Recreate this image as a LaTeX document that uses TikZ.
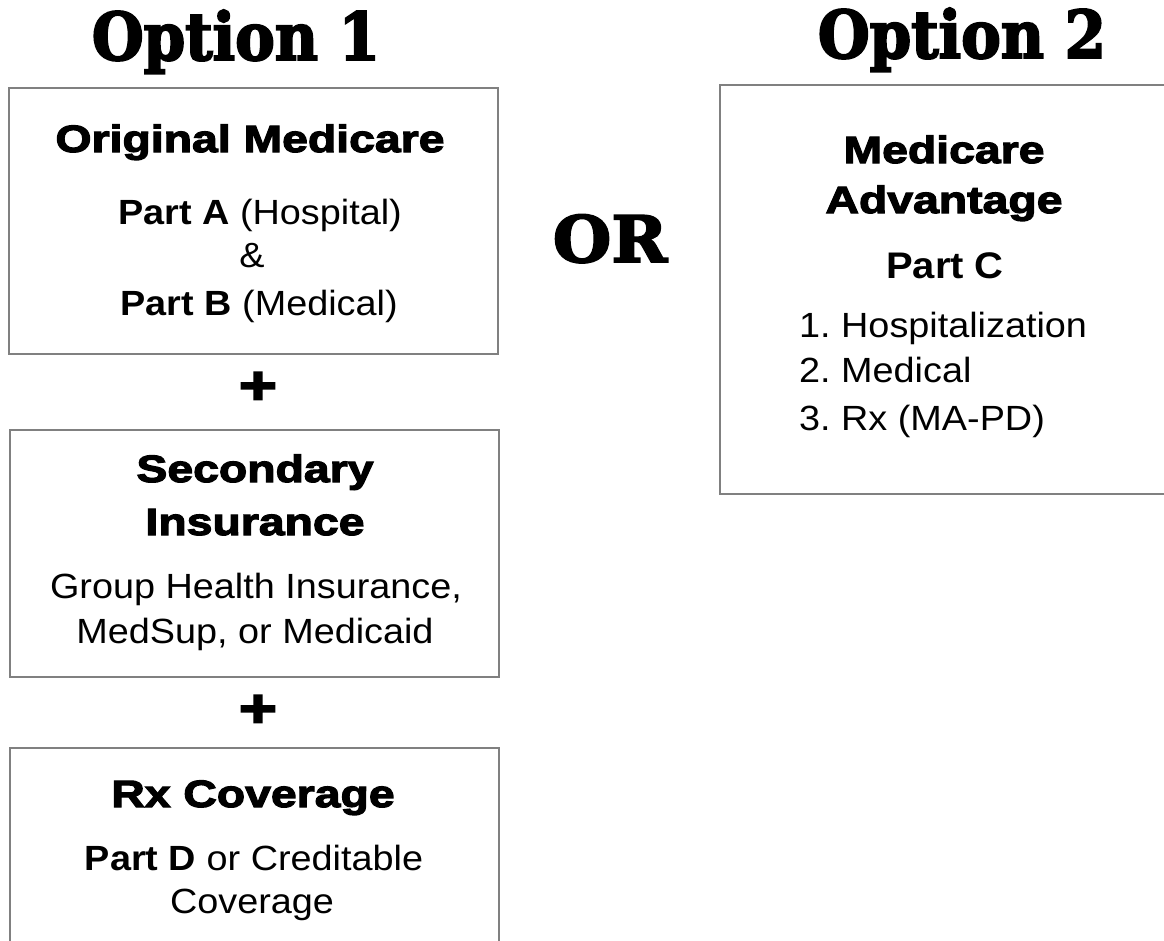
\documentclass[tikz,border=0pt]{standalone}
\usepackage{fontspec}
\setmainfont{Liberation Sans}[FakeStretch=1.08]
\newfontfamily\titlefont{DejaVu Serif}[FakeStretch=0.9,FakeBold=3]
\newfontfamily\orfont{DejaVu Serif}[FakeStretch=1.05,FakeBold=3]
\newfontfamily\blackfont{Liberation Sans}[FakeStretch=1.22,FakeBold=3.2]

\definecolor{framegray}{RGB}{128,128,128}

\begin{document}
\frenchspacing
\begin{tikzpicture}[x=1pt,y=-1pt,
  optiontitle/.style={font=\titlefont\bfseries\fontsize{66}{66}\selectfont, anchor=base, inner sep=0pt},
  orsign/.style={font=\orfont\bfseries\fontsize{64}{64}\selectfont, anchor=base, inner sep=0pt},
  boxhead/.style={font=\blackfont\bfseries\fontsize{38}{38}\selectfont, anchor=base, inner sep=0pt},
  boxtext/.style={font=\fontsize{35}{35}\selectfont, anchor=base, inner sep=0pt},
  plussign/.style={font=\blackfont\bfseries\fontsize{54}{54}\selectfont, inner sep=0pt},
  boxframe/.style={draw=framegray, line width=2.5pt}]

\useasboundingbox (0,0) rectangle (1164,940);

% option 1
\node[optiontitle] (opt1) at (236,60) {Option 1};

\draw[boxframe] (9,88) rectangle (498,354);
\node[boxhead] (orig) at (250,152) {Original Medicare};
\node[boxtext] (parta) at (260,224) {\textbf{Part A} (Hospital)};
\node[boxtext] (amp) at (252,267) {\&};
\node[boxtext] (partb) at (259,315) {\textbf{Part B} (Medical)};

\node[plussign] (plus1) at (258,388) {+};

\draw[boxframe] (10,430) rectangle (499,677);
\node[boxhead] (sec) at (255,482) {Secondary};
\node[boxhead] (ins) at (255,535) {Insurance};
\node[boxtext] (group) at (256,598) {Group Health Insurance,};
\node[boxtext] (medsup) at (255,643) {MedSup, or Medicaid};

\node[plussign] (plus2) at (258,711) {+};

\draw[boxframe] (10,748) rectangle (499,960);
\node[boxhead] (rx) at (253,807) {Rx Coverage};
\node[boxtext] (partd) at (254,870) {\textbf{Part D} or Creditable};
\node[boxtext] (cov) at (252,913) {Coverage};

% or
\node[orsign] (or) at (610,262) {OR};

% option 2
\node[optiontitle] (opt2) at (962,58) {Option 2};

\draw[boxframe] (720,85) rectangle (1175,494);
\node[boxhead] (medi) at (944,163) {Medicare};
\node[boxhead] (adv) at (944,213) {Advantage};
\node[boxtext, font=\bfseries\fontsize{37}{37}\selectfont] (partc) at (945,278) {Part C};
\node[boxtext, anchor=base west] (hosp) at (799,337) {1. Hospitalization};
\node[boxtext, anchor=base west] (med) at (799,382) {2. Medical};
\node[boxtext, anchor=base west] (rxpd) at (799,430) {3. Rx (MA-PD)};
\end{tikzpicture}
\end{document}
